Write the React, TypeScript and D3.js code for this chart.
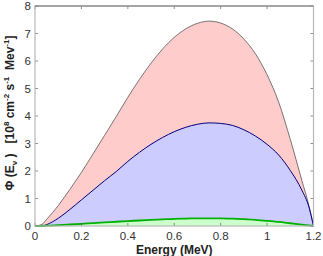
import * as d3 from 'd3';

const energy = [0, 0.03, 0.05, 0.1, 0.15, 0.2, 0.25, 0.3, 0.35, 0.4, 0.45, 0.5, 0.55, 0.6, 0.65, 0.7, 0.75, 0.8, 0.85, 0.9, 0.95, 1.0, 1.05, 1.1, 1.15, 1.18, 1.2];
const totalFlux = [0, 0.06, 0.24, 0.74, 1.33, 1.95, 2.62, 3.3, 3.98, 4.68, 5.33, 5.92, 6.44, 6.86, 7.17, 7.37, 7.45, 7.38, 7.17, 6.8, 6.26, 5.5, 4.5, 3.15, 1.65, 0.75, 0];
const blueFlux = [0, 0, 0.05, 0.28, 0.6, 0.95, 1.3, 1.65, 1.98, 2.35, 2.68, 2.97, 3.22, 3.43, 3.59, 3.7, 3.75, 3.73, 3.66, 3.5, 3.27, 2.97, 2.58, 2.02, 1.3, 0.7, 0];
const greenFlux = [0, 0.005, 0.012, 0.03, 0.055, 0.08, 0.105, 0.13, 0.155, 0.18, 0.2, 0.22, 0.24, 0.26, 0.27, 0.28, 0.28, 0.28, 0.27, 0.25, 0.225, 0.19, 0.15, 0.1, 0.05, 0.02, 0];

const xTicks = [0, 0.2, 0.4, 0.6, 0.8, 1, 1.2];
const yTicks = [0, 1, 2, 3, 4, 5, 6, 7, 8];

const series = [
  { values: totalFlux, fill: '#ffcccc', stroke: '#555555', width: 0.8 },
  { values: blueFlux, fill: '#ccccff', stroke: '#000080', width: 1 },
  { values: greenFlux, fill: '#ccffcc', stroke: '#00b000', width: 1.8 },
];

export default function App() {
  const width = 323;
  const height = 256;
  const marginLeft = 35;
  const marginRight = 9.5;
  const marginTop = 6;
  const marginBottom = 30;

  const x = d3.scaleLinear([0, 1.2], [marginLeft, width - marginRight]);
  const y = d3.scaleLinear([0, 8], [height - marginBottom, marginTop]);

  const area = d3
    .area<number>()
    .x((d, i) => x(energy[i]))
    .y0(y(0))
    .y1((d) => y(d))
    .curve(d3.curveMonotoneX);
  const line = d3
    .line<number>()
    .x((d, i) => x(energy[i]))
    .y((d) => y(d))
    .curve(d3.curveMonotoneX);

  const font = 'Liberation Sans, Arial, sans-serif';

  return (
    <svg
      width={width}
      height={height}
      style={{ position: 'absolute', left: 0, top: 0 }}
      fontFamily={font}
    >
      <rect width={width} height={height} fill='white' />
      {series.map((s, i) => (
        <path key={`a${i}`} d={area(s.values) ?? ''} fill={s.fill} />
      ))}
      {series.map((s, i) => (
        <path
          key={`l${i}`}
          d={line(s.values) ?? ''}
          fill='none'
          stroke={s.stroke}
          strokeWidth={s.width}
        />
      ))}
      <g stroke='#444' strokeWidth={0.6}>
        {xTicks.map((t) => (
          <g key={t}>
            <line x1={x(t)} x2={x(t)} y1={y(0)} y2={y(0) - 3} />
            <line x1={x(t)} x2={x(t)} y1={y(8)} y2={y(8) + 3} />
          </g>
        ))}
        {yTicks.map((t) => (
          <g key={t}>
            <line x1={x(0)} x2={x(0) + 3} y1={y(t)} y2={y(t)} />
            <line x1={x(1.2)} x2={x(1.2) - 3} y1={y(t)} y2={y(t)} />
          </g>
        ))}
      </g>
      <rect
        x={x(0)}
        y={y(8)}
        width={x(1.2) - x(0)}
        height={y(0) - y(8)}
        fill='none'
        stroke='#b8b8b8'
        strokeWidth={1.2}
      />
      <line x1={x(0)} x2={x(1.2)} y1={y(8)} y2={y(8)} stroke='#777' strokeWidth={1} />
      <g fontSize={11.5} fill='#333'>
        {xTicks.map((t) => (
          <text key={t} x={x(t)} y={y(0) + 14} textAnchor='middle'>
            {d3.format('~g')(t)}
          </text>
        ))}
        {yTicks.map((t) => (
          <text key={t} x={x(0) - 4} y={y(t) + 4} textAnchor='end'>
            {t}
          </text>
        ))}
      </g>
      <text
        x={(x(0) + x(1.2)) / 2}
        y={254}
        textAnchor='middle'
        fontSize={12}
        fontWeight='bold'
        fill='#222'
      >
        Energy (MeV)
      </text>
      <text
        transform={`translate(14,${(y(0) + y(8)) / 2 - 3}) rotate(-90)`}
        textAnchor='middle'
        fontSize={12}
        fontWeight='bold'
        fill='#222'
        style={{ whiteSpace: 'pre' }}
      >
        {'Φ (E'}
        <tspan fontSize={8} dy={3}>ν</tspan>
        <tspan dy={-3}>{' )   [10'}</tspan>
        <tspan fontSize={8} dy={-5}>8</tspan>
        <tspan dy={5}>{' cm'}</tspan>
        <tspan fontSize={8} dy={-5}>-2</tspan>
        <tspan dy={5}>{' s'}</tspan>
        <tspan fontSize={8} dy={-5}>-1</tspan>
        <tspan dy={5}>{'  Mev'}</tspan>
        <tspan fontSize={8} dy={-5}>-1</tspan>
        <tspan dy={5}>]</tspan>
      </text>
    </svg>
  );
}
